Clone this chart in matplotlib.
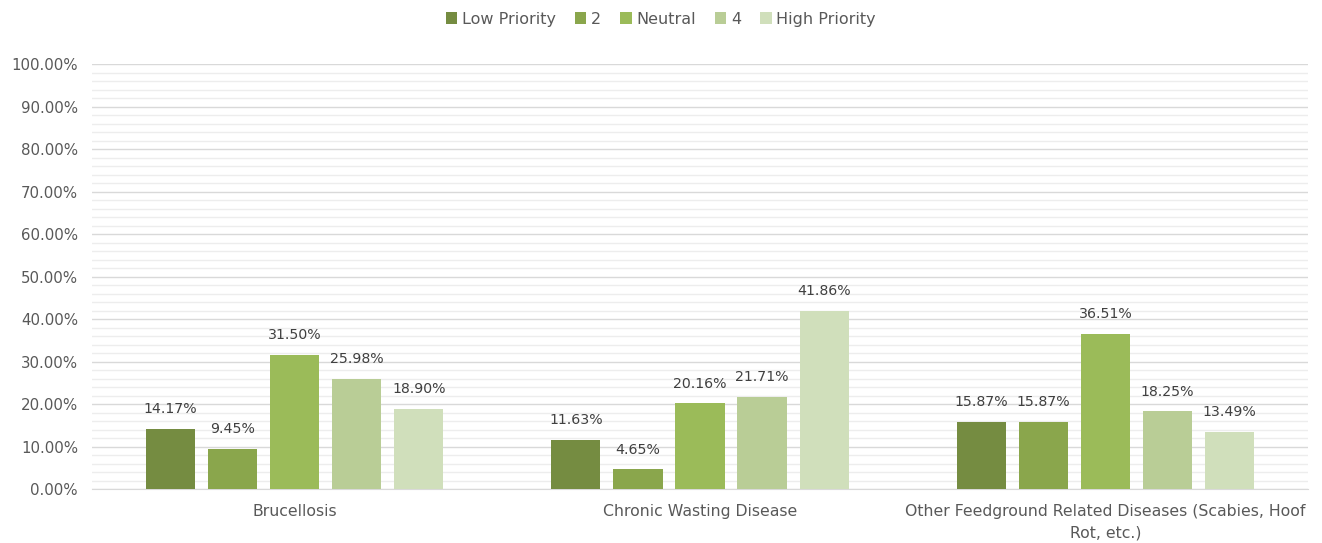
import numpy as np
import matplotlib.pyplot as plt
from matplotlib.ticker import MultipleLocator, PercentFormatter

# data
categories = ["Brucellosis", "Chronic Wasting Disease",
              "Other Feedground Related Diseases (Scabies, Hoof\nRot, etc.)"]
series = ["Low Priority", "2", "Neutral", "4", "High Priority"]
values = [
    [14.17, 11.63, 15.87],
    [9.45, 4.65, 15.87],
    [31.50, 20.16, 36.51],
    [25.98, 21.71, 18.25],
    [18.90, 41.86, 13.49],
]
colors = ["#758c41", "#8aa64c", "#9bbb59", "#b9cd96", "#d0dfbb"]

TXT = "#595959"
plt.rcParams["font.family"] = "DejaVu Sans"

fig = plt.figure(figsize=(13.22, 5.43), dpi=100)
ax = fig.add_axes([0.0696, 0.0994, 0.9198, 0.7826])

x = np.arange(len(categories))
step = 0.153
width = 0.121
for i, (name, vals) in enumerate(zip(series, values)):
    pos = x + (i - 2) * step
    bars = ax.bar(pos, vals, width, color=colors[i], label=name, zorder=3)
    for b, v in zip(bars, vals):
        ax.text(b.get_x() + b.get_width() / 2, v + 3.0, f"{v:.2f}%",
                ha="center", va="bottom", fontsize=10.2, color="#404040")

ax.set_xlim(-0.5, 2.5)
ax.set_ylim(0, 100)
ax.yaxis.set_major_locator(MultipleLocator(10))
ax.yaxis.set_minor_locator(MultipleLocator(2))
ax.yaxis.set_major_formatter(PercentFormatter(decimals=2))
ax.grid(axis="y", which="major", color="#d9d9d9", linewidth=1, zorder=0)
ax.grid(axis="y", which="minor", color="#ededed", linewidth=1, zorder=0)
ax.set_xticks(x)
ax.set_xticklabels(categories, fontsize=11.3, linespacing=1.5)
ax.tick_params(axis="both", which="both", length=0, colors=TXT)
ax.tick_params(axis="y", labelsize=10.8, pad=10)
ax.tick_params(axis="x", pad=11)
for s in ["top", "right", "left"]:
    ax.spines[s].set_visible(False)
ax.spines["bottom"].set_color("#d9d9d9")

leg = fig.legend(loc="upper center", bbox_to_anchor=(0.5, 1.005), ncol=5,
                 frameon=False, handlelength=0.7, handleheight=0.7,
                 handletextpad=0.3, columnspacing=1.2, fontsize=11.5)
for t in leg.get_texts():
    t.set_color(TXT)

fig.savefig("out.png", dpi=100)
